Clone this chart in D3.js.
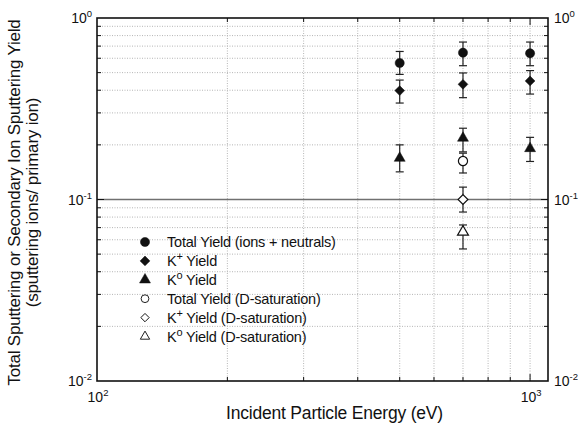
<!DOCTYPE html>
<html>
<head>
<meta charset="utf-8">
<script src="https://cdn.jsdelivr.net/npm/d3@7"></script>
<style>
  body { margin: 0; background: #fff; }
  svg { font-family: "Liberation Sans", Arial, sans-serif; }
</style>
</head>
<body>
<svg id="chart" width="578" height="427"></svg>
<script>
// values
const energy = [500, 700, 1000];
const totalYield = [0.565, 0.644, 0.639];
const totalLo = [0.489, 0.546, 0.546];
const totalHi = [0.654, 0.737, 0.737];
const kPlusYield = [0.398, 0.431, 0.450];
const kPlusLo = [0.340, 0.364, 0.381];
const kPlusHi = [0.455, 0.498, 0.513];
const kZeroYield = [0.169, 0.218, 0.191];
const kZeroLo = [0.142, 0.183, 0.162];
const kZeroHi = [0.200, 0.247, 0.220];

const dEnergy = [700];
const totalD = [0.163], totalDLo = [0.140], totalDHi = [0.180];
const kPlusD = [0.100], kPlusDLo = [0.0853], kPlusDHi = [0.117];
const kZeroD = [0.0662], kZeroDLo = [0.0534], kZeroDHi = [0.0724];

const xTicks = [100, 1000];
const yTicks = [0.01, 0.1, 1];

const series = [
  { name: "Total Yield (ions + neutrals)", sym: "circle", fill: true, x: energy, y: totalYield, lo: totalLo, hi: totalHi },
  { name: "K", sup: "+", rest: " Yield", sym: "diamond", fill: true, x: energy, y: kPlusYield, lo: kPlusLo, hi: kPlusHi },
  { name: "K", sup: "o", rest: " Yield", sym: "triangle", fill: true, x: energy, y: kZeroYield, lo: kZeroLo, hi: kZeroHi },
  { name: "Total Yield (D-saturation)", sym: "circle", fill: false, x: dEnergy, y: totalD, lo: totalDLo, hi: totalDHi },
  { name: "K", sup: "+", rest: " Yield (D-saturation)", sym: "diamond", fill: false, x: dEnergy, y: kPlusD, lo: kPlusDLo, hi: kPlusDHi },
  { name: "K", sup: "o", rest: " Yield (D-saturation)", sym: "triangle", fill: false, x: dEnergy, y: kZeroD, lo: kZeroDLo, hi: kZeroDHi }
];

const svg = d3.select("#chart");
const margin = { top: 18, right: 30, bottom: 46, left: 97 };
const W = 578, H = 427;

const x = d3.scaleLog().domain([100, 1100]).range([margin.left, W - margin.right]);
const y = d3.scaleLog().domain([0.01, 1]).range([H - margin.bottom, margin.top]);
const [x0, x1] = x.range();
const [y0, y1] = y.range();

const xMinor = [200, 300, 400, 500, 600, 700, 800, 900, 1000];
const yMinor = [];
[0.01, 0.1].forEach(d => { for (let k = 2; k <= 9; k++) yMinor.push(d * k); });

// grid
const grid = svg.append("g");
grid.selectAll(".gx").data(xMinor).enter().append("line")
  .attr("x1", d => x(d)).attr("x2", d => x(d))
  .attr("y1", y1).attr("y2", y0)
  .attr("stroke", "#b5b5b5").attr("stroke-width", 1).attr("stroke-dasharray", "1,1.5");
grid.selectAll(".gy").data(yMinor).enter().append("line")
  .attr("x1", x0).attr("x2", x1)
  .attr("y1", d => y(d)).attr("y2", d => y(d))
  .attr("stroke", "#b5b5b5").attr("stroke-width", 1).attr("stroke-dasharray", "1,1.5");
grid.append("line")
  .attr("x1", x0).attr("x2", x1)
  .attr("y1", y(0.1)).attr("y2", y(0.1))
  .attr("stroke", "#707070").attr("stroke-width", 1.5);

// ticks (inward on all sides)
const ticks = svg.append("g").attr("stroke", "#111").attr("stroke-width", 1);
xMinor.forEach(d => {
  const len = d === 1000 ? 7 : 4;
  ticks.append("line").attr("x1", x(d)).attr("x2", x(d)).attr("y1", y0).attr("y2", y0 - len);
  ticks.append("line").attr("x1", x(d)).attr("x2", x(d)).attr("y1", y1).attr("y2", y1 + len);
});
yMinor.concat([0.1]).forEach(d => {
  const len = d === 0.1 ? 7 : 4;
  ticks.append("line").attr("x1", x0).attr("x2", x0 + len).attr("y1", y(d)).attr("y2", y(d));
  ticks.append("line").attr("x1", x1).attr("x2", x1 - len).attr("y1", y(d)).attr("y2", y(d));
});

// frame
svg.append("rect")
  .attr("x", x0).attr("y", y1)
  .attr("width", x1 - x0).attr("height", y0 - y1)
  .attr("fill", "none").attr("stroke", "#111").attr("stroke-width", 1.6);

// tick labels
function powLabel(g, px, py, exp, anchor) {
  const t = g.append("text").attr("x", px).attr("y", py)
    .attr("text-anchor", anchor).attr("font-size", 14).attr("fill", "#111");
  t.append("tspan").text("10");
  t.append("tspan").attr("dy", -6).attr("font-size", 9.5).text(exp);
}
yTicks.forEach(d => {
  const e = Math.round(Math.log10(d));
  const exp = e === 0 ? "0" : String(e);
  powLabel(svg, x0 - 5, y(d) + 5, exp, "end");
  powLabel(svg, x1 + 6, y(d) + 5, exp, "start");
});
xTicks.forEach(d => {
  powLabel(svg, x(d) + 1, y0 + 21, String(Math.round(Math.log10(d))), "middle");
});

// axis titles
svg.append("text")
  .attr("x", (x0 + x1) / 2 + 12).attr("y", y0 + 38)
  .attr("text-anchor", "middle").attr("font-size", 17.5).attr("fill", "#111")
  .attr("letter-spacing", -0.2)
  .text("Incident Particle Energy (eV)");
const yt = svg.append("text")
  .attr("transform", `translate(20, ${(y0 + y1) / 2 + 3}) rotate(-90)`)
  .attr("text-anchor", "middle").attr("font-size", 17).attr("fill", "#111")
  .attr("letter-spacing", -0.2);
yt.append("tspan").attr("x", 0).attr("dy", 0).text("Total Sputtering or Secondary Ion Sputtering Yield");
yt.append("tspan").attr("x", 0).attr("dy", 18).text("(sputtering ions/ primary ion)");

// markers
function symbolPath(sym) {
  if (sym === "circle") return d3.symbol().type(d3.symbolCircle).size(66)();
  if (sym === "triangle") return d3.symbol().type(d3.symbolTriangle).size(52)();
  return d3.symbol().type(d3.symbolSquare).size(48)();
}

const marks = svg.append("g");
series.forEach(s => {
  const pts = s.x.map((xv, i) => ({ x: xv, y: s.y[i], lo: s.lo[i], hi: s.hi[i] }));
  const g = marks.append("g");
  const eb = g.selectAll(".eb").data(pts).enter().append("g")
    .attr("stroke", "#222").attr("stroke-width", 1.2);
  eb.append("line").attr("x1", d => x(d.x)).attr("x2", d => x(d.x))
    .attr("y1", d => y(d.lo)).attr("y2", d => y(d.hi));
  eb.append("line").attr("x1", d => x(d.x) - 4).attr("x2", d => x(d.x) + 4)
    .attr("y1", d => y(d.lo)).attr("y2", d => y(d.lo));
  eb.append("line").attr("x1", d => x(d.x) - 4).attr("x2", d => x(d.x) + 4)
    .attr("y1", d => y(d.hi)).attr("y2", d => y(d.hi));
  g.selectAll(".pt").data(pts).enter().append("path")
    .attr("d", symbolPath(s.sym))
    .attr("transform", d => `translate(${x(d.x)},${y(d.y)})` + (s.sym === "diamond" ? " rotate(45)" : ""))
    .attr("fill", s.fill ? "#111" : "#fff")
    .attr("stroke", "#111").attr("stroke-width", s.fill ? 0.5 : 1.2);
});

// legend
const legend = svg.append("g");
series.forEach((s, i) => {
  const ly = 242 + i * 18.9;
  legend.append("path")
    .attr("d", symbolPath(s.sym))
    .attr("transform", `translate(145,${ly})` + (s.sym === "diamond" ? " rotate(45)" : "") + (s.fill ? "" : " scale(0.85)"))
    .attr("fill", s.fill ? "#111" : "#fff")
    .attr("stroke", "#111").attr("stroke-width", s.fill ? 0.5 : 1.1);
  const t = legend.append("text").attr("x", 167).attr("y", ly + 5)
    .attr("font-size", 14.5).attr("fill", "#111").attr("letter-spacing", -0.2);
  if (s.sup) {
    t.append("tspan").text(s.name);
    t.append("tspan").attr("dy", -6).attr("font-size", 11).text(s.sup);
    t.append("tspan").attr("dy", 6).text(s.rest);
  } else {
    t.text(s.name);
  }
});
</script>
</body>
</html>
